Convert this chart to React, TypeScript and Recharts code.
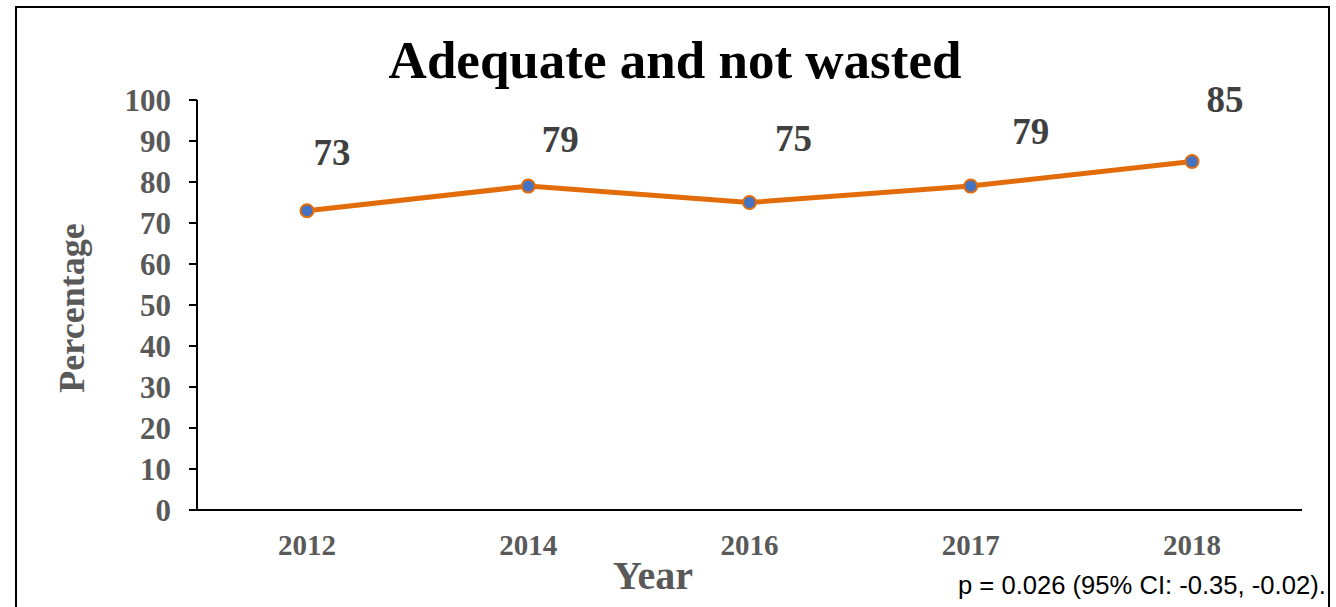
import { LineChart, Line, XAxis, YAxis, LabelList } from "recharts"

const years = ["2012", "2014", "2016", "2017", "2018"]
const percentages = [73, 79, 75, 79, 85]
const yTicks = [0, 10, 20, 30, 40, 50, 60, 70, 80, 90, 100]
// label offsets relative to each point, as placed in the original
const labelOffsets = [
  [25, -58],
  [32, -47],
  [44, -64],
  [60, -55],
  [33, -62],
]

const data = years.map((year, i) => ({ year, value: percentages[i] }))

const serif = "'Liberation Serif', 'Times New Roman', serif"

function ValueLabel(props: any) {
  const { x, y, value, index } = props
  const [dx, dy] = labelOffsets[index] ?? [30, -55]
  return (
    <text
      x={x + dx}
      y={y + dy}
      textAnchor="middle"
      dominantBaseline="central"
      fontFamily={serif}
      fontWeight="bold"
      fontSize={37}
      fill="#404040"
    >
      {value}
    </text>
  )
}

export default function App() {
  return (
    <div style={{ position: "absolute", left: 0, top: 0, width: 1336, height: 607, background: "#fff", overflow: "hidden" }}>
      <div
        style={{
          position: "absolute",
          left: 15,
          top: 6,
          width: 1315,
          height: 640,
          border: "2px solid #000",
          boxSizing: "border-box",
        }}
      />
      <div style={{ position: "absolute", left: 0, top: 0 }}>
        <LineChart width={1336} height={607} data={data} margin={{ top: 100, right: 34, bottom: 67, left: 117 }}>
          <XAxis
            dataKey="year"
            height={30}
            padding={{ left: 110, right: 110 }}
            axisLine={{ stroke: "#000", strokeWidth: 2 }}
            tickLine={false}
            tick={{ fill: "#595959", fontSize: 29, fontWeight: "bold", fontFamily: serif }}
            tickMargin={18}
          />
          <YAxis
            domain={[0, 100]}
            ticks={yTicks}
            interval={0}
            width={80}
            axisLine={{ stroke: "#000", strokeWidth: 2 }}
            tickLine={{ stroke: "#000", strokeWidth: 2 }}
            tickSize={8}
            tickMargin={18}
            tick={{ fill: "#595959", fontSize: 31, fontWeight: "bold", fontFamily: serif }}
          />
          <Line
            type="linear"
            dataKey="value"
            stroke="#E36C0A"
            strokeWidth={5}
            dot={{ fill: "#4472C4", stroke: "#E36C0A", strokeWidth: 2, r: 6.5 }}
            isAnimationActive={false}
          >
            <LabelList dataKey="value" content={ValueLabel} />
          </Line>
        </LineChart>
      </div>
      <div
        style={{
          position: "absolute",
          left: 0,
          width: 1350,
          top: 29,
          textAlign: "center",
          fontFamily: serif,
          fontWeight: "bold",
          fontSize: 53,
          color: "#000",
          lineHeight: "62px",
        }}
      >
        Adequate and not wasted
      </div>
      <div
        style={{
          position: "absolute",
          left: 72,
          top: 308,
          transform: "translate(-50%, -50%) rotate(-90deg)",
          fontFamily: serif,
          fontWeight: "bold",
          fontSize: 36,
          color: "#595959",
          whiteSpace: "nowrap",
        }}
      >
        Percentage
      </div>
      <div
        style={{
          position: "absolute",
          left: 653,
          top: 575,
          transform: "translate(-50%, -50%)",
          fontFamily: serif,
          fontWeight: "bold",
          fontSize: 40,
          color: "#595959",
          whiteSpace: "nowrap",
        }}
      >
        Year
      </div>
      <div
        style={{
          position: "absolute",
          left: 958,
          top: 570,
          fontFamily: "'Liberation Sans', Arial, sans-serif",
          fontSize: 25.6,
          color: "#000",
          whiteSpace: "nowrap",
          lineHeight: "30px",
        }}
      >
        p = 0.026 (95% CI: -0.35, -0.02).
      </div>
    </div>
  )
}
